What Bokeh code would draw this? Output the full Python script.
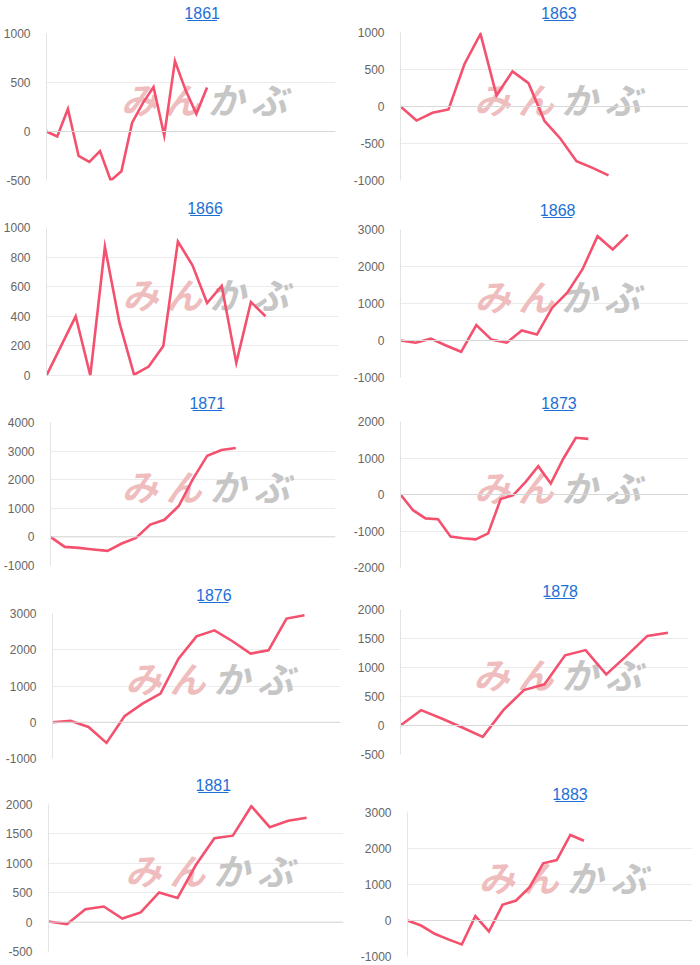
from bokeh.plotting import figure
from bokeh.layouts import column, row
from bokeh.models import Range1d, FixedTicker, Span, PrintfTickFormatter
from bokeh.core.properties import value
from bokeh.embed import file_html
from bokeh.resources import INLINE

# ---------------- data ----------------
titles = ["1861", "1863", "1866", "1868", "1871", "1873", "1876", "1878", "1881", "1883"]

s1861 = [0, -50, 230, -250, -310, -200, -500, -405, 90, 290, 455, -40, 720, 420, 180, 450]
s1863 = [0, -190, -85, -40, 575, 980, 150, 475, 315, -195, -435, -740, -830, -930]
s1866 = [0, 200, 400, 0, 870, 355, 5, 60, 200, 905, 745, 490, 605, 85, 497, 400]
s1868 = [0, -60, 50, -135, -305, 415, 25, -60, 270, 160, 880, 1290, 1920, 2820, 2460, 2860]
s1871 = [0, -350, -385, -440, -490, -230, -35, 430, 600, 1080, 2030, 2840, 3040, 3110]
s1873 = [0, -430, -655, -680, -1155, -1200, -1230, -1065, -125, -20, 345, 775, 300, 980, 1555, 1525]
s1876 = [0, 40, -130, -570, 165, 515, 790, 1755, 2370, 2535, 2235, 1895, 1985, 2860, 2950]
s1878 = [0, 265, 120, -35, -195, 265, 610, 710, 1210, 1300, 880, 1205, 1545, 1600]
s1881 = [10, -35, 220, 265, 60, 165, 505, 410, 975, 1425, 1470, 1970, 1615, 1725, 1775]
s1883 = [0, -140, -370, -525, -665, 120, -305, 435, 555, 925, 1590, 1680, 2375, 2215]
series = [s1861, s1863, s1866, s1868, s1871, s1873, s1876, s1878, s1881, s1883]

# x-axis category slots shown on each panel
x_slots = [28, 19, 21, 20, 21, 24, 17, 15, 17, 22]
# y-axis tick ranges
y_min = [-500, -1000, 0, -1000, -1000, -2000, -1000, -500, -500, -1000]
y_max = [1000, 1000, 1000, 3000, 4000, 2000, 3000, 2000, 2000, 3000]
y_step = [500, 500, 200, 1000, 1000, 1000, 1000, 500, 500, 1000]

WATERMARK = "みんかぶ"

# ---------------- layout / style ----------------
ROW_H = [192, 193, 190, 190, 200]
# (frame left, frame right, frame top, frame bottom, title centre) in px, relative to the panel
BOXES = [
    (42, 335, 33, 180, 12), (47, 338, 32, 180, 12),
    (42, 338, 35, 183, 15), (44, 338, 37, 185, 17),
    (50, 335, 37, 180, 17), (47, 338, 36, 182, 17),
    (52, 340, 38, 183, 19), (50, 338, 34, 179, 15),
    (48, 343, 39, 186, 19), (57, 342, 47, 191, 28),
]
PANEL_W = 350
LINE_C = "#f4516e"
TITLE_C = "#1d6fd6"
WM_COLORS = ["#efbdbd", "#efbdbd", "#c6c6c6", "#c6c6c6"]
FONT = "Liberation Sans"


def make_panel(i, rh):
    L, R, T, B, TC = BOXES[i]
    title_h = T - 10
    tf = figure(width=PANEL_W, height=title_h, x_range=Range1d(0, PANEL_W),
                y_range=Range1d(0, title_h), min_border=0,
                x_axis_location=None, y_axis_location=None,
                output_backend="svg", toolbar_location=None)
    tf.grid.visible = False
    tf.outline_line_color = None
    cx = (L + R) / 2
    tf.text(x=[cx], y=[title_h - TC], text=[titles[i]], text_align="center",
            text_baseline="middle", text_font=value(FONT), text_font_size="16px",
            text_color=TITLE_C)
    uy = title_h - TC - 8
    tf.segment(x0=[cx - 18], y0=[uy], x1=[cx + 18], y1=[uy],
               line_color=TITLE_C, line_width=1.2)

    ch = rh - title_h
    fh = B - T
    fw = R - L
    x0, x1 = 0, x_slots[i] - 1
    y0, y1 = y_min[i], y_max[i]
    p = figure(width=PANEL_W, height=ch, x_range=Range1d(x0, x1), y_range=Range1d(y0, y1),
               min_border_top=10, min_border_bottom=ch - 10 - fh,
               min_border_left=L, min_border_right=PANEL_W - R,
               x_axis_location=None, output_backend="svg", toolbar_location=None)
    p.outline_line_color = None
    p.xgrid.visible = False
    ticks = list(range(y0, y1 + 1, y_step[i]))
    p.yaxis.ticker = FixedTicker(ticks=ticks)
    p.yaxis.formatter = PrintfTickFormatter(format="%d")
    p.yaxis.major_tick_line_color = None
    p.yaxis.minor_tick_line_color = None
    p.yaxis.axis_line_color = "#e3e3e3"
    p.yaxis.major_label_standoff = 10
    p.yaxis.major_label_text_font = FONT
    p.yaxis.major_label_text_font_size = "12px"
    p.yaxis.major_label_text_color = "#666666"
    p.ygrid.grid_line_color = "#ebebeb"
    p.add_layout(Span(location=0, dimension="width", line_color="#d8d8d8", line_width=1))

    # watermark
    xpp = (x1 - x0) / fw
    ypp = (y1 - y0) / fh
    wcx = x0 + 0.545 * fw * xpp
    wcy = y1 - 0.44 * fh * ypp
    for k, ch_ in enumerate(WATERMARK):
        off = (k - 1.5) * 44
        p.text(x=[wcx + off * xpp], y=[wcy], text=[ch_], text_align="center",
               text_baseline="middle", text_font=value("Noto Sans CJK JP"),
               text_font_size="36px", text_font_style="bold italic",
               text_color=WM_COLORS[k])

    p.line(x=list(range(len(series[i]))), y=series[i], line_color=LINE_C,
           line_width=2.6, line_join="miter")
    return column(tf, p, spacing=0)


rows = []
for r in range(5):
    rows.append(row(make_panel(2 * r, ROW_H[r]), make_panel(2 * r + 1, ROW_H[r]), spacing=0))
layout = column(*rows, spacing=0)

open("out.html", "w").write(file_html(layout, INLINE))
